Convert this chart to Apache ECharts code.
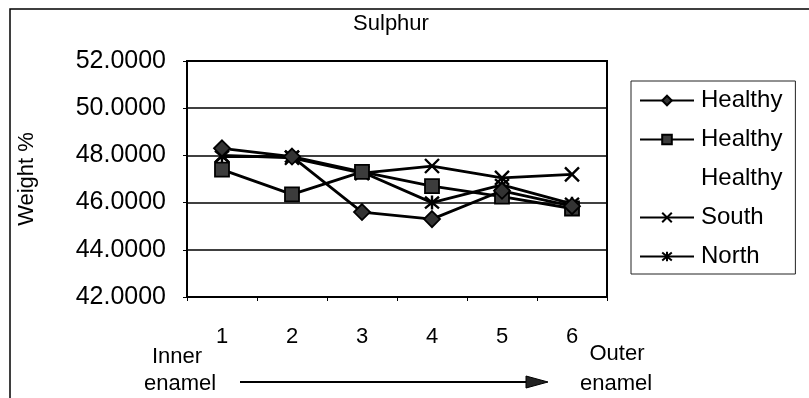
<!DOCTYPE html>
<html>
<head>
<meta charset="utf-8">
<style>
  html, body { margin: 0; padding: 0; background: #fff; }
  #chart { width: 809px; height: 398px; }
</style>
<script src="https://cdn.jsdelivr.net/npm/echarts@6/dist/echarts.min.js"></script>
</head>
<body>
<div id="chart"></div>
<script>
// Sulphur content (weight %) from inner to outer enamel, six positions
const positions = ['1', '2', '3', '4', '5', '6'];
const healthyA = [48.3, 47.95, 45.6, 45.3, 46.5, 45.85];
const healthyB = [47.4, 46.35, 47.3, 46.7, 46.25, 45.75];
const healthyC = [];
const south = [48.0, 47.9, 47.25, 47.55, 47.05, 47.2];
const north = [47.95, 47.95, 47.3, 46.0, 46.75, 45.95];
const yMin = 42, yMax = 52, yStep = 2;

const FONT = "'Liberation Sans', Arial, sans-serif";
const INK = '#000';

const xMark = 'path://M0,0L10,10M10,0L0,10';
const starMark = 'path://M0,0L10,10M10,0L0,10M5,-1L5,11';

function lineSeries(name, data, symbol, size, fill, z, border) {
  return {
    name: name,
    type: 'line',
    data: data,
    symbol: symbol,
    symbolSize: size,
    z: z,
    lineStyle: { color: INK, width: 2.8 },
    itemStyle: { color: fill, borderColor: INK, borderWidth: border },
    emphasis: { disabled: true },
    animation: false
  };
}

function label(text, x, y, size) {
  return {
    type: 'text', x: x, y: y, silent: true,
    style: {
      text: text, fontSize: size, fontFamily: FONT, fill: INK,
      align: 'center', verticalAlign: 'middle'
    }
  };
}

const chart = echarts.init(document.getElementById('chart'), null, { renderer: 'canvas' });

chart.setOption({
  backgroundColor: '#fff',
  animation: false,
  textStyle: { fontFamily: FONT, color: INK },
  grid: {
    left: 187, right: 202, top: 61, bottom: 101,
    show: true, borderColor: INK, borderWidth: 2, backgroundColor: 'transparent'
  },
  xAxis: {
    type: 'category',
    data: positions,
    boundaryGap: true,
    axisLine: { lineStyle: { color: INK, width: 2 } },
    axisTick: { show: true, length: 4, lineStyle: { color: INK, width: 1 } },
    axisLabel: { color: INK, fontSize: 22, fontFamily: FONT, margin: 29 },
    splitLine: { show: false }
  },
  yAxis: {
    type: 'value',
    min: yMin, max: yMax, interval: yStep,
    name: 'Weight %',
    nameLocation: 'middle',
    nameRotate: 90,
    nameGap: 149,
    nameTextStyle: { fontSize: 22, fontFamily: FONT, color: INK },
    axisLine: { show: true, lineStyle: { color: INK, width: 2 } },
    axisTick: { show: true, length: 4, lineStyle: { color: INK, width: 1 } },
    axisLabel: {
      color: INK, fontSize: 25, fontFamily: FONT, margin: 21,
      formatter: v => v.toFixed(4)
    },
    splitLine: { show: true, lineStyle: { color: INK, width: 1.5 } }
  },
  legend: {
    orient: 'vertical',
    left: 631, top: 81,
    padding: [7, 13, 5, 8],
    itemWidth: 54, itemHeight: 12,
    itemGap: 14,
    borderColor: '#222', borderWidth: 1,
    selectedMode: false,
    textStyle: { fontSize: 24, fontFamily: FONT, color: INK, lineHeight: 25, padding: [0, 0, 0, 2] },
    formatter: name => name.replace(/ [ABC]$/, ''),
    data: [
      { name: 'Healthy A' },
      { name: 'Healthy B' },
      { name: 'Healthy C', icon: 'none', itemStyle: { opacity: 0 }, lineStyle: { opacity: 0 } },
      { name: 'South' },
      { name: 'North' }
    ]
  },
  graphic: [
    // outer chart frame
    { type: 'rect', shape: { x: 10, y: 9, width: 900, height: 500 },
      style: { fill: 'none', stroke: INK, lineWidth: 1.5 }, silent: true, z: 0 },
    label('Sulphur', 391, 24, 22),
    label('Inner', 177, 357, 22),
    label('enamel', 180, 384, 22),
    label('Outer', 617, 354, 22),
    label('enamel', 616, 384, 22),
    // direction arrow
    { type: 'line', shape: { x1: 240, y1: 382, x2: 530, y2: 382 }, style: { stroke: INK, lineWidth: 2 } },
    { type: 'polygon', shape: { points: [[526, 376], [548, 382], [526, 388]] }, style: { fill: '#222', stroke: INK, lineWidth: 1 } }
  ],
  series: [
    lineSeries('South', south, xMark, 14, 'none', 2, 2.4),
    lineSeries('North', north, starMark, 14, 'none', 3, 2.4),
    lineSeries('Healthy A', healthyA, 'diamond', 16, '#333', 5, 1.8),
    lineSeries('Healthy B', healthyB, 'rect', 14, '#3c3c3c', 4, 1.8),
    {
      name: 'Healthy C', type: 'line', data: healthyC, symbol: 'none',
      lineStyle: { opacity: 0 }, itemStyle: { opacity: 0 }, animation: false
    }
  ]
});
</script>
</body>
</html>
